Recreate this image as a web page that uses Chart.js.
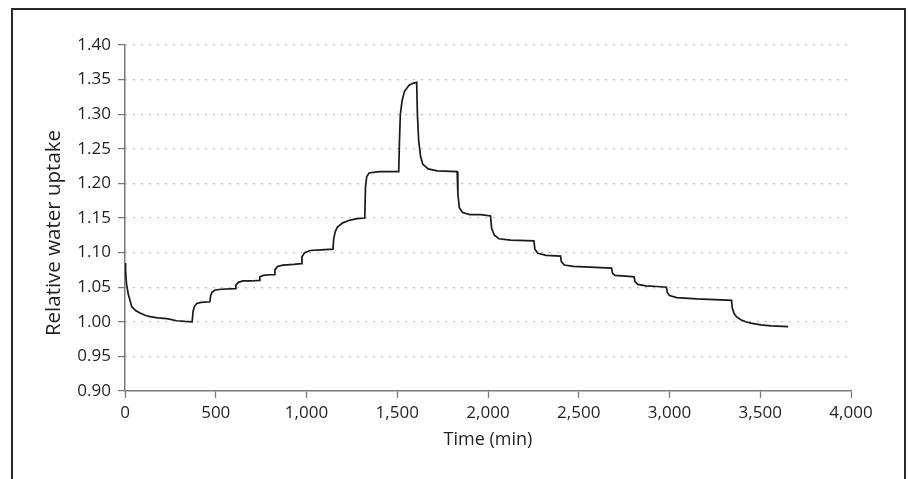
<!DOCTYPE html>
<html>
<head>
<meta charset="utf-8">
<script src="https://cdn.jsdelivr.net/npm/chart.js@4.4.1/dist/chart.umd.min.js"></script>
<style>
  html, body { margin: 0; padding: 0; background: #ffffff; }
  #wrap { width: 908px; height: 479px; position: relative; }
</style>
</head>
<body>
<div id="wrap"><canvas id="c" width="908" height="479"></canvas></div>
<script>
// ---- data ----
const timeMin = [
  0, 3, 8, 18, 37, 60, 83, 110, 138, 180, 230, 285, 330, 370,
  375, 382, 395, 420, 468,
  472, 480, 497, 530, 607,
  611, 625, 650, 700, 739,
  743, 762, 800, 822,
  826, 840, 870, 930, 971,
  975, 990, 1020, 1080, 1146,
  1150, 1158, 1170, 1200, 1241, 1280, 1321,
  1325, 1332, 1345, 1400, 1508,
  1512, 1517, 1527, 1540, 1565, 1590, 1607,
  1611, 1618, 1628, 1640, 1670, 1720, 1830,
  1834, 1842, 1860, 1900, 1960, 2014,
  2020, 2035, 2060, 2124, 2253,
  2258, 2275, 2320, 2400,
  2404, 2420, 2470, 2560, 2681,
  2686, 2700, 2760, 2805,
  2810, 2825, 2870, 2930, 2983,
  2988, 3000, 3040, 3150, 3250, 3342,
  3346, 3356, 3370, 3393, 3420, 3448, 3503, 3560, 3654
];
const relUptake = [
  1.085, 1.075, 1.055, 1.040, 1.022, 1.016, 1.0127, 1.0095, 1.0074, 1.0058, 1.0045, 1.0015, 1.0005, 1.000,
  1.015, 1.022, 1.0265, 1.028, 1.029,
  1.038, 1.043, 1.046, 1.047, 1.048,
  1.053, 1.057, 1.059, 1.059, 1.060,
  1.065, 1.067, 1.068, 1.068,
  1.075, 1.080, 1.082, 1.083, 1.084,
  1.094, 1.100, 1.103, 1.104, 1.105,
  1.120, 1.130, 1.137, 1.143, 1.147, 1.149, 1.150,
  1.195, 1.210, 1.215, 1.217, 1.217,
  1.260, 1.300, 1.320, 1.333, 1.342, 1.345, 1.346,
  1.300, 1.262, 1.240, 1.228, 1.221, 1.218, 1.217,
  1.185, 1.165, 1.158, 1.155, 1.155, 1.153,
  1.135, 1.125, 1.120, 1.118, 1.117,
  1.105, 1.099, 1.096, 1.095,
  1.087, 1.082, 1.080, 1.079, 1.0775,
  1.070, 1.067, 1.066, 1.065,
  1.058, 1.054, 1.052, 1.051, 1.050,
  1.042, 1.038, 1.035, 1.033, 1.032, 1.031,
  1.020, 1.012, 1.007, 1.003, 1.000, 0.998, 0.9955, 0.994, 0.993
];
const xTickValues = [0, 500, 1000, 1500, 2000, 2500, 3000, 3500, 4000];
const yTickValues = [0.90, 0.95, 1.00, 1.05, 1.10, 1.15, 1.20, 1.25, 1.30, 1.35, 1.40];
const xTitle = 'Time (min)';
const yTitle = 'Relative water uptake';

const points = timeMin.map((t, i) => ({ x: t, y: relUptake[i] }));

const TEXT = '#231f20';
const AXIS = '#7a7a7a';
const FONT = "'Open Sans', 'DejaVu Sans', sans-serif";

const decorPlugin = {
  id: 'decor',
  afterDraw(chart) {
    const ctx = chart.ctx;
    ctx.save();
    // outer frame (left, top, right edges)
    ctx.strokeStyle = '#2a2a2a';
    ctx.lineWidth = 2;
    ctx.beginPath();
    ctx.moveTo(12, 479);
    ctx.lineTo(12, 9);
    ctx.lineTo(905, 9);
    ctx.lineTo(905, 479);
    ctx.stroke();
    // y-axis title
    ctx.fillStyle = TEXT;
    ctx.font = "20.5px " + FONT;
    ctx.textAlign = 'center';
    ctx.textBaseline = 'middle';
    ctx.translate(54, 233);
    ctx.rotate(-Math.PI / 2);
    ctx.fillText(yTitle, 0, 0);
    ctx.restore();
  }
};

new Chart(document.getElementById('c'), {
  type: 'line',
  data: {
    datasets: [{
      data: points,
      borderColor: '#1a1a1a',
      borderWidth: 1.7,
      pointRadius: 0,
      tension: 0,
      fill: false
    }]
  },
  options: {
    responsive: false,
    animation: false,
    layout: { padding: { left: 0, right: 57, top: 45, bottom: 0 } },
    plugins: { legend: { display: false }, tooltip: { enabled: false } },
    scales: {
      x: {
        type: 'linear',
        min: 0, max: 4000,
        afterFit(s) { s.height = 88; },
        afterBuildTicks(s) { s.ticks = xTickValues.map(v => ({ value: v })); },
        ticks: {
          color: TEXT,
          font: { family: FONT, size: 17 },
          padding: 5,
          maxRotation: 0,
          callback: v => v.toLocaleString('en-US')
        },
        grid: { drawOnChartArea: false, tickLength: 7, tickColor: AXIS, tickWidth: 1.3 },
        border: { color: AXIS, width: 1.5 },
        title: {
          display: true, text: xTitle, color: TEXT,
          font: { family: FONT, size: 18 },
          padding: { top: 0, bottom: 28 }
        }
      },
      y: {
        type: 'linear',
        min: 0.9, max: 1.4,
        afterFit(s) { s.width = 125; },
        afterBuildTicks(s) { s.ticks = yTickValues.map(v => ({ value: v })); },
        ticks: {
          color: TEXT,
          font: { family: FONT, size: 17 },
          padding: 7,
          callback: v => Number(v).toFixed(2)
        },
        grid: {
          color: '#808080', lineWidth: 1.2,
          tickLength: 7, tickColor: AXIS, tickWidth: 1.3, tickBorderDash: []
        },
        border: { color: AXIS, width: 1.5, dash: [1, 7] }
      }
    }
  },
  plugins: [decorPlugin]
});
</script>
</body>
</html>
